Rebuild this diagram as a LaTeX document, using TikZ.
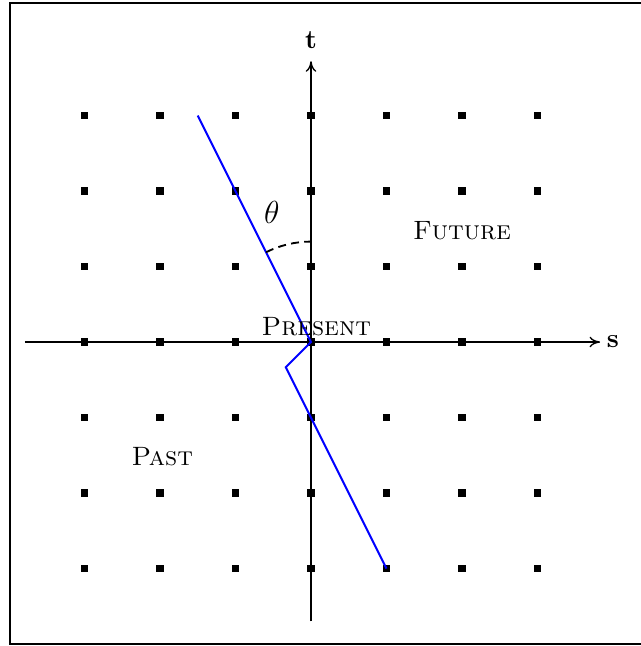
\documentclass[tikz,border=0pt]{standalone}
\usetikzlibrary{arrows.meta}
\begin{document}
\begin{tikzpicture}[x=1cm,y=1cm,
  dot/.style={rectangle,fill=black,draw=none,minimum size=2.7pt,inner sep=0pt},
  axis/.style={line width=0.5pt,-{To[length=4pt,width=4pt]}},
  path/.style={blue,line width=0.75pt},
  lbl/.style={font=\normalsize}]
\useasboundingbox (-4.119,-4.026) rectangle (4.358,4.530);
\draw[line width=0.8pt] (-3.987,-3.995) rectangle (4.45,4.49);
% axes
\coordinate (xs) at (-3.79,0);
\coordinate (xe) at (3.83,0);
\coordinate (ys) at (0,-3.70);
\coordinate (ye) at (0,3.72);
\draw[axis] (xs) -- (xe);
\draw[axis] (ys) -- (ye);
\node[lbl] (slab) at (4.0,0) {\textbf{s}};
\node[lbl] (tlab) at (0,4.0) {\textbf{t}};
% grid points
\foreach \i in {-3,...,3}
  \foreach \j in {-3,...,3}
    \node[dot] (p\i\j) at (\i,\j) {};
% path
\coordinate (a) at (-1.5,3);
\coordinate (o) at (0,0);
\coordinate (k) at (-1/3,-1/3);
\coordinate (b) at (1,-3);
\draw[path] (a) -- (o) -- (k) -- (b);
% angle
\draw[line width=0.7pt,dash pattern=on 3pt off 2pt] (116.57:1.33) arc[start angle=116.57,end angle=90,radius=1.33];
\node (theta) at (-0.52,1.72) {\large$\theta$};
% labels
\node[lbl] (future) at (2.0,1.48) {\textsc{Future}};
\node[lbl] (past) at (-1.97,-1.52) {\textsc{Past}};
\node[lbl] (present) at (0.07,0.2) {\textsc{Present}};
\end{tikzpicture}
\end{document}
